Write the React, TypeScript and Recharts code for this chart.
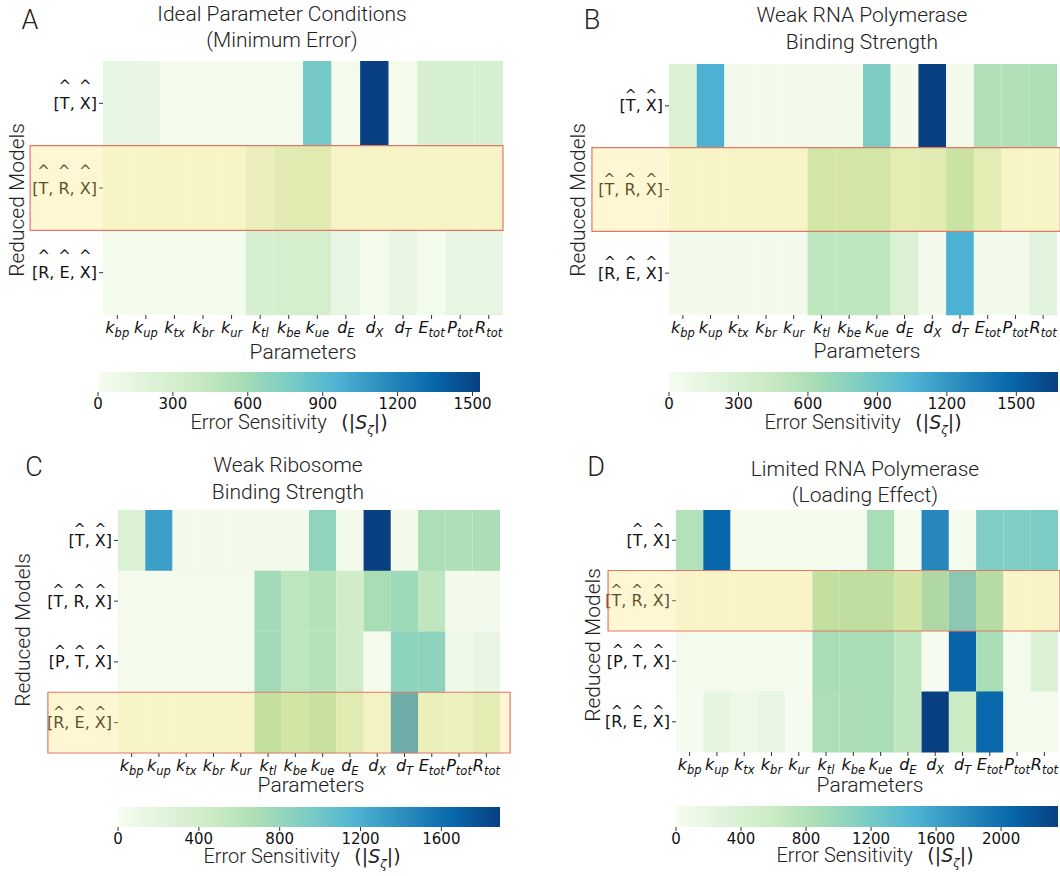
import { Bar, BarChart, Cell, ReferenceArea, XAxis, YAxis } from "recharts";

// parameters (x axis), written as base + subscript
const paramBase = ["k", "k", "k", "k", "k", "k", "k", "k", "d", "d", "d", "E", "P", "R"];
const paramSub = ["bp", "up", "tx", "br", "ur", "tl", "be", "ue", "E", "X", "T", "tot", "tot", "tot"];

// A: ideal parameter conditions
const modelsA = ["T,X", "T,R,X", "R,E,X"];
const sensA = [
  [130, 120, 25, 25, 25, 25, 25, 790, 25, 1530, 25, 280, 275, 285],
  [25, 25, 25, 25, 25, 160, 300, 300, 40, 40, 40, 40, 35, 35],
  [30, 30, 30, 30, 30, 290, 300, 300, 130, 30, 120, 30, 130, 130],
];
const ticksA = [0, 300, 600, 900, 1200, 1500];

// B: weak RNA polymerase binding
const modelsB = ["T,X", "T,R,X", "R,E,X"];
const sensB = [
  [270, 1060, 40, 40, 40, 40, 40, 830, 40, 1680, 40, 580, 580, 600],
  [30, 30, 30, 30, 30, 480, 480, 480, 300, 330, 560, 300, 30, 30],
  [40, 40, 40, 40, 40, 500, 500, 500, 260, 40, 1060, 50, 50, 180],
];
const ticksB = [0, 300, 600, 900, 1200, 1500];

// C: weak ribosome binding
const modelsC = ["T,X", "T,R,X", "P,T,X", "R,E,X"];
const sensC = [
  [290, 1300, 40, 40, 40, 40, 40, 830, 40, 1890, 40, 680, 680, 690],
  [30, 30, 30, 30, 30, 740, 570, 620, 430, 710, 760, 550, 50, 50],
  [30, 30, 30, 30, 30, 740, 570, 620, 430, 30, 850, 850, 80, 150],
  [30, 30, 30, 30, 30, 700, 570, 650, 380, 100, 1380, 220, 170, 320],
];
const ticksC = [0, 400, 800, 1200, 1600];

// D: limited RNA polymerase
const modelsD = ["T,X", "T,R,X", "P,T,X", "R,E,X"];
const sensD = [
  [790, 2060, 40, 40, 40, 40, 40, 880, 40, 1800, 40, 1150, 1150, 1180],
  [30, 30, 30, 30, 30, 870, 900, 900, 700, 1050, 1370, 990, 30, 30],
  [40, 40, 40, 40, 40, 880, 880, 880, 700, 30, 2080, 880, 40, 380],
  [30, 230, 120, 180, 30, 850, 860, 870, 690, 2350, 590, 2050, 40, 40],
];
const ticksD = [0, 400, 800, 1200, 1600, 2000];

const GNBU = ["#f7fcf0", "#e0f3db", "#ccebc5", "#a8ddb5", "#7bccc4", "#4eb3d3", "#2b8cbe", "#0868ac", "#084081"];

function hexToRgb(h: string) {
  return [1, 3, 5].map((i) => parseInt(h.slice(i, i + 2), 16));
}

function gnbu(t: number) {
  const s = Math.max(0, Math.min(1, t)) * 8;
  const i = Math.min(7, Math.floor(s));
  const f = s - i;
  const a = hexToRgb(GNBU[i]);
  const b = hexToRgb(GNBU[i + 1]);
  const c = a.map((v, k) => Math.round(v + (b[k] - v) * f));
  return `rgb(${c[0]},${c[1]},${c[2]})`;
}

const LIGHT = "Roboto, 'Helvetica Neue', sans-serif";
const DEJAVU = "'DejaVu Sans', sans-serif";

// DejaVu Sans advance widths (em)
const charW: Record<string, number> = {
  "[": 0.39, "]": 0.39, ",": 0.318, " ": 0.318,
  T: 0.611, R: 0.695, X: 0.686, E: 0.632, P: 0.604,
};

function ModelTick(props: any) {
  const { x, y, payload, hatGap, hatSize } = props;
  const fs = 16;
  const label = "[" + String(payload.value).split(",").join(", ") + "]";
  let pos = 0;
  const centers: number[] = [];
  for (const ch of label) {
    const w = (charW[ch] ?? 0.6) * fs;
    if (/[A-Z]/.test(ch)) centers.push(pos + w / 2);
    pos += w;
  }
  const start = x - pos;
  return (
    <g>
      <text x={x} y={y} textAnchor="end" dominantBaseline="central" fontFamily={DEJAVU} fontSize={fs} fill="#111">
        {label}
      </text>
      {centers.map((c, i) => (
        <text key={i} x={start + c} y={y - hatGap} textAnchor="middle" dominantBaseline="central" fontFamily={DEJAVU} fontSize={hatSize} fill="#111">
          ^
        </text>
      ))}
    </g>
  );
}

function ParamTick(props: any) {
  const { x, y, payload } = props;
  const j = Math.floor(payload.value);
  return (
    <text x={x} y={y + 12} textAnchor="middle" fontFamily={DEJAVU} fontSize={16} fontStyle="italic" fill="#111">
      {paramBase[j]}
      <tspan fontSize={11.5} dy={3.5}>
        {paramSub[j]}
      </tspan>
    </text>
  );
}

type Box = { x0: number; x1: number; y0: number; y1: number };

type Panel = {
  key: string;
  letter: string;
  title: string[];
  models: string[];
  sens: number[][];
  max: number;
  cbTicks: number[];
  hl: number;
  hlX: [number, number];
  hatGap: number;
  hatSize: number;
  chart: { left: number; top: number; width: number; height: number };
  plot: Box;
  cb: Box;
  titleAt: [number, number, number];
  letterAt: [number, number];
  yLabelAt: [number, number];
  xLabelAt: [number, number];
  cbLabelAt: [number, number];
};

const panels: Panel[] = [
  {
    key: "A", letter: "A", title: ["Ideal Parameter Conditions", "(Minimum Error)"],
    models: modelsA, sens: sensA, max: 1530, cbTicks: ticksA, hl: 1, hlX: [-2.55, 14], hatGap: 17, hatSize: 15,
    chart: { left: 0, top: 50, width: 520, height: 300 },
    plot: { x0: 103, x1: 503, y0: 61, y1: 315 },
    cb: { x0: 98, x1: 480, y0: 372, y1: 392 },
    titleAt: [282, 14, 40], letterAt: [30, 20], yLabelAt: [17, 200], xLabelAt: [303, 352], cbLabelAt: [289, 424],
  },
  {
    key: "B", letter: "B", title: ["Weak RNA Polymerase", "Binding Strength"],
    models: modelsB, sens: sensB, max: 1680, cbTicks: ticksB, hl: 1, hlX: [-2.78, 14.12], hatGap: 11, hatSize: 14,
    chart: { left: 540, top: 50, width: 520, height: 300 },
    plot: { x0: 669, x1: 1057, y0: 64, y1: 315 },
    cb: { x0: 669, x1: 1058, y0: 372, y1: 392 },
    titleAt: [862, 15, 42], letterAt: [592, 20], yLabelAt: [578, 200], xLabelAt: [867, 351], cbLabelAt: [863, 424],
  },
  {
    key: "C", letter: "C", title: ["Weak Ribosome", "Binding Strength"],
    models: modelsC, sens: sensC, max: 1890, cbTicks: ticksC, hl: 3, hlX: [-2.57, 14.37], hatGap: 11, hatSize: 14,
    chart: { left: 0, top: 500, width: 520, height: 288 },
    plot: { x0: 118, x1: 500, y0: 510, y1: 753 },
    cb: { x0: 118, x1: 500, y0: 807, y1: 827 },
    titleAt: [288, 465, 492], letterAt: [34, 467], yLabelAt: [23, 630], xLabelAt: [311, 785], cbLabelAt: [302, 858],
  },
  {
    key: "D", letter: "D", title: ["Limited RNA Polymerase", "(Loading Effect)"],
    models: modelsD, sens: sensD, max: 2350, cbTicks: ticksD, hl: 1, hlX: [-2.49, 14.07], hatGap: 11, hatSize: 14,
    chart: { left: 540, top: 500, width: 520, height: 287 },
    plot: { x0: 676, x1: 1058, y0: 510, y1: 752 },
    cb: { x0: 676, x1: 1058, y0: 806, y1: 827 },
    titleAt: [865, 469, 495], letterAt: [596, 467], yLabelAt: [593, 645], xLabelAt: [870, 785], cbLabelAt: [875, 857],
  },
];

function Txt({ x, y, size, rotate, family, children }: any) {
  return (
    <div
      style={{
        position: "absolute",
        left: x,
        top: y,
        transform: `translate(-50%, -50%)${rotate ? ` rotate(${rotate}deg)` : ""}`,
        fontFamily: family ?? LIGHT,
        fontWeight: 300,
        fontSize: size,
        lineHeight: 1,
        whiteSpace: "nowrap",
        color: "#222",
      }}
    >
      {children}
    </div>
  );
}

function Heatmap({ p }: { p: Panel }) {
  const { chart, plot } = p;
  const data = p.models.map((m) => {
    const row: Record<string, any> = { model: m };
    paramSub.forEach((_, j) => (row["p" + j] = 1));
    return row;
  });
  const xTicks = paramSub.map((_, j) => j + 0.5);
  return (
    <div style={{ position: "absolute", left: chart.left, top: chart.top }}>
      <BarChart
        layout="vertical"
        width={chart.width}
        height={chart.height}
        data={data}
        barCategoryGap={0}
        barGap={0}
        margin={{ left: 0, top: plot.y0 - chart.top, right: chart.left + chart.width - plot.x1, bottom: 0 }}
      >
        <XAxis
          type="number"
          domain={[0, paramSub.length]}
          ticks={xTicks}
          interval={0}
          height={chart.top + chart.height - plot.y1}
          axisLine={false}
          tickSize={4}
          tickLine={{ stroke: "#333" }}
          tick={<ParamTick />}
        />
        <YAxis
          type="category"
          dataKey="model"
          width={plot.x0 - chart.left}
          axisLine={false}
          tickSize={4}
          tickLine={{ stroke: "#333" }}
          interval={0}
          tick={(tp: any) => <ModelTick {...tp} hatGap={p.hatGap} hatSize={p.hatSize} />}
        />
        {paramSub.map((_, j) => (
          <Bar key={j} dataKey={"p" + j} stackId="h" isAnimationActive={false}>
            {p.sens.map((row, r) => (
              <Cell key={r} fill={gnbu(row[j] / p.max)} />
            ))}
          </Bar>
        ))}
        <ReferenceArea
          y1={p.models[p.hl]}
          y2={p.models[p.hl]}
          x1={p.hlX[0]}
          x2={p.hlX[1]}
          ifOverflow="visible"
          fill="#ffe46e"
          fillOpacity={0.3}
          stroke="#e07868"
          strokeWidth={1.2}
          zIndex={2500}
        />
      </BarChart>
    </div>
  );
}

function Colorbar({ p }: { p: Panel }) {
  const { cb } = p;
  const gid = "cb" + p.key;
  return (
    <div style={{ position: "absolute", left: cb.x0 - 24, top: cb.y0 - 5 }}>
      <BarChart
        layout="vertical"
        width={cb.x1 - cb.x0 + 48}
        height={cb.y1 - cb.y0 + 27}
        data={[{ name: "cb", v: p.max }]}
        barCategoryGap={0}
        margin={{ left: 24, right: 24, top: 5, bottom: 0 }}
      >
        <defs>
          <linearGradient id={gid} x1="0" x2="1" y1="0" y2="0">
            {GNBU.map((c, i) => (
              <stop key={i} offset={i / 8} stopColor={c} />
            ))}
          </linearGradient>
        </defs>
        <XAxis
          type="number"
          domain={[0, p.max]}
          ticks={p.cbTicks}
          interval={0}
          height={22}
          axisLine={false}
          tickSize={4}
          tickLine={{ stroke: "#333" }}
          tick={{ fontSize: 15, fontFamily: DEJAVU, fill: "#111" }}
        />
        <YAxis type="category" dataKey="name" hide />
        <Bar dataKey="v" fill={`url(#${gid})`} isAnimationActive={false} />
      </BarChart>
    </div>
  );
}

export default function App() {
  return (
    <div style={{ position: "absolute", left: 0, top: 0, width: 1060, height: 876, background: "#fff", overflow: "hidden" }}>
      {panels.map((p) => (
        <div key={p.key}>
          <Heatmap p={p} />
          <Colorbar p={p} />
          <Txt x={p.letterAt[0]} y={p.letterAt[1]} size={27}>{p.letter}</Txt>
          <Txt x={p.titleAt[0]} y={p.titleAt[1]} size={21}>{p.title[0]}</Txt>
          <Txt x={p.titleAt[0]} y={p.titleAt[2]} size={21}>{p.title[1]}</Txt>
          <Txt x={p.yLabelAt[0]} y={p.yLabelAt[1]} size={21} rotate={-90}>Reduced Models</Txt>
          <Txt x={p.xLabelAt[0]} y={p.xLabelAt[1]} size={21}>Parameters</Txt>
          <Txt x={p.cbLabelAt[0]} y={p.cbLabelAt[1]} size={20}>
            Error Sensitivity&nbsp;&nbsp;&nbsp;
            <span style={{ fontFamily: DEJAVU, fontWeight: 400, fontSize: 19 }}>
              (|<i>S</i>
              <sub style={{ fontSize: 12 }}>
                <i>ζ</i>
              </sub>
              |)
            </span>
          </Txt>
        </div>
      ))}
    </div>
  );
}
